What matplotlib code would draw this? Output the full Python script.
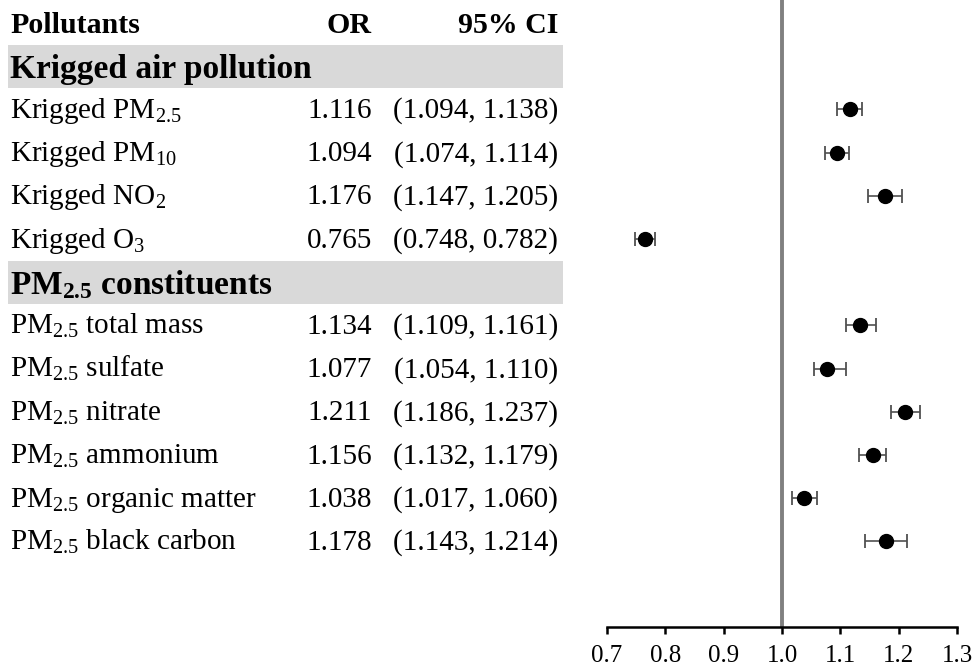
import matplotlib
matplotlib.use("Agg")
import matplotlib.pyplot as plt
import matplotlib.transforms as mtransforms
from matplotlib.patches import Rectangle

plt.rcParams['font.family'] = ['Liberation Serif', 'DejaVu Serif']
plt.rcParams['mathtext.fontset'] = 'custom'
plt.rcParams['mathtext.rm'] = 'Liberation Serif'
plt.rcParams['mathtext.bf'] = 'Liberation Serif:bold'

# group headings and their row index
groups = [r"Krigged air pollution", r"$\mathbf{PM_{2.5}}$ constituents"]
group_rows = [1, 6]

# pollutants and estimates
labels = [r"Krigged $\mathrm{PM_{2.5}}$", r"Krigged $\mathrm{PM_{10}}$",
          r"Krigged $\mathrm{NO_{2}}$", r"Krigged $\mathrm{O_{3}}$",
          r"$\mathrm{PM_{2.5}}$ total mass", r"$\mathrm{PM_{2.5}}$ sulfate",
          r"$\mathrm{PM_{2.5}}$ nitrate", r"$\mathrm{PM_{2.5}}$ ammonium",
          r"$\mathrm{PM_{2.5}}$ organic matter", r"$\mathrm{PM_{2.5}}$ black carbon"]
rows = [2, 3, 4, 5, 7, 8, 9, 10, 11, 12]
odds = [1.116, 1.094, 1.176, 0.765, 1.134, 1.077, 1.211, 1.156, 1.038, 1.178]
lower = [1.094, 1.074, 1.147, 0.748, 1.109, 1.054, 1.186, 1.132, 1.017, 1.143]
upper = [1.138, 1.114, 1.205, 0.782, 1.161, 1.110, 1.237, 1.179, 1.060, 1.214]
xticks = [0.7, 0.8, 0.9, 1.0, 1.1, 1.2, 1.3]

W, H = 972, 669
fig = plt.figure(figsize=(W / 100, H / 100), dpi=100)
ax = fig.add_axes([607 / W, (H - 627) / H, 350 / W, 627 / H])

# forest plot
err = [[o - l for o, l in zip(odds, lower)], [u - o for o, u in zip(odds, upper)]]
ax.errorbar(odds, rows, xerr=err, fmt='none', ecolor='#505050', elinewidth=1.2,
            capsize=5, capthick=1.3, zorder=2)
ax.plot(odds, rows, 'o', color='black', markersize=10, zorder=3)
ax.axvline(1.0, color='#808080', linewidth=2.8, zorder=1)

ax.set_xlim(0.7, 1.3)
ax.set_ylim(13.98, -0.53)
ax.set_xticks(xticks)
ax.set_xticklabels([f"{t:.1f}" for t in xticks], fontsize=18)
ax.set_yticks([])
for s in ['top', 'right', 'left']:
    ax.spines[s].set_visible(False)
ax.spines['bottom'].set_linewidth(1.8)
ax.tick_params(axis='x', direction='out', length=5, width=1.8, pad=8)
ax.patch.set_alpha(0)

# table on the left
tr = mtransforms.blended_transform_factory(fig.transFigure, ax.transData)
fx = lambda px: px / W
base = 0.2  # baseline offset below row centre (data units)

ax.text(fx(10), 0 + 0.24, "Pollutants", transform=tr, ha='left', va='baseline',
        fontsize=21.5, fontweight='bold')
ax.text(fx(372), 0 + 0.24, "OR", transform=tr, ha='right', va='baseline',
        fontsize=21.5, fontweight='bold')
ax.text(fx(558), 0 + 0.24, "95% CI", transform=tr, ha='right', va='baseline',
        fontsize=21.5, fontweight='bold')

for g, r in zip(groups, group_rows):
    ax.add_patch(Rectangle((fx(8), r - 0.5), fx(563) - fx(8), 1.0, transform=tr,
                           facecolor='#d9d9d9', edgecolor='none', clip_on=False, zorder=0))
    ax.text(fx(10), r + 0.27, g, transform=tr, ha='left', va='baseline',
            fontsize=24, fontweight='bold')

for lab, r, o, l, u in zip(labels, rows, odds, lower, upper):
    ax.text(fx(10), r + base, lab, transform=tr, ha='left', va='baseline', fontsize=21)
    ax.text(fx(372), r + base, f"{o:.3f}", transform=tr, ha='right', va='baseline',
            fontsize=21)
    ax.text(fx(558), r + base, f"({l:.3f}, {u:.3f})", transform=tr, ha='right',
            va='baseline', fontsize=21)

fig.savefig('out.png', dpi=100)
